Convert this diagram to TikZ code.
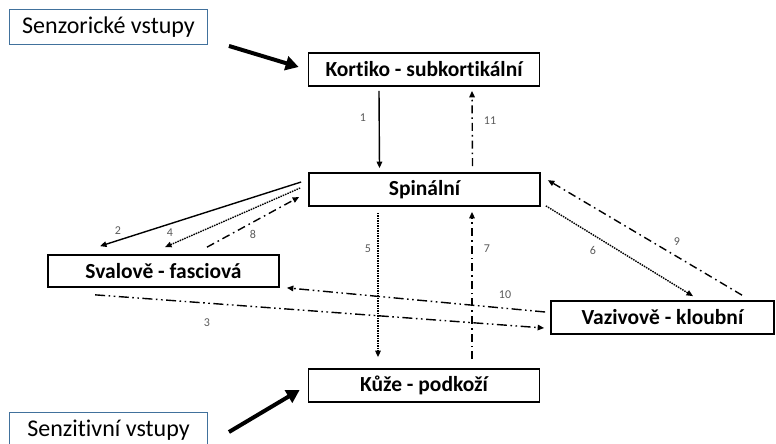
\documentclass[tikz,border=0pt]{standalone}
\usepackage{fontspec}
\setmainfont{Carlito}[Ligatures=NoCommon]
\usetikzlibrary{arrows.meta}
\definecolor{inblue}{RGB}{65,113,156}
\definecolor{numgray}{RGB}{90,90,90}
\begin{document}
\begin{tikzpicture}[x=1pt, y=-1pt,
		box/.style={draw, line width=1.7pt, minimum width=231pt, minimum height=33pt, inner sep=0pt, font=\fontsize{21.5}{25}\selectfont\bfseries},
		inbox/.style={draw=inblue, line width=0.9pt, minimum width=198pt, minimum height=35pt, inner sep=0pt, font=\fontsize{24}{28}\selectfont},
		link/.style={line width=1.4pt, -{Triangle[length=6.5pt, width=5.5pt]}},
		dotline/.style={link, dash pattern=on 1.5pt off 1pt},
		dashdot/.style={link, dash pattern=on 8pt off 4pt on 1.6pt off 4pt},
		dashdotdot/.style={link, dash pattern=on 10pt off 3.5pt on 1.6pt off 3.5pt on 1.6pt off 3.5pt},
		inarrow/.style={line width=4pt, -{Triangle[length=13pt, width=14pt]}},
		num/.style={text=numgray, font=\fontsize{12}{14}\selectfont}]
			\useasboundingbox (0, 0) rectangle (776, 444);
			
			\node[inbox] (senz) at (108.5, 27) {Senzorické vstupy};
			\node[inbox] (senzit) at (108.5, 430) {Senzitivní vstupy};
			
			\node[box] (kort) at (424, 69.5) {Kortiko - subkortikální};
			\node[box] (spin) at (424.5, 189.5) {Spinální};
			\node[box, minimum height=32pt] (sval) at (163.5, 271) {Svalově - fasciová};
			\node[box, minimum width=223pt] (vaz) at (662.5, 317.5) {Vazivově - kloubní};
			\node[box] (kuze) at (424, 385.5) {Kůže - podkoží};
			
			\draw[inarrow] ([xshift=21, yshift=-1]senz.south east) -- ([xshift=-9, yshift=2.5]kort.west);
			\draw[inarrow] ([xshift=21, yshift=-2]senzit.east) -- ([xshift=-8, yshift=-4.5]kuze.west);
			
			\draw[link] ([xshift=-45, yshift=-4]kort.south) -- ([xshift=-45, yshift=4]spin.north);
			\draw[dashdot] ([xshift=48, yshift=6]spin.north) -- ([xshift=48, yshift=-4]kort.south);
			
			\draw[link] ([xshift=-7, yshift=7.5]spin.west) -- ([xshift=-63.5, yshift=8]sval.north);
			\draw[dotline] ([xshift=-8, yshift=1.5]spin.west) -- ([xshift=1.5, yshift=7]sval.north);
			\draw[dashdot] ([xshift=43.5, yshift=7]sval.north) -- ([xshift=-9, yshift=-7.5]spin.west);
			
			\draw[dotline] ([xshift=-46.5, yshift=-6]spin.south) -- ([xshift=-46, yshift=11]kuze.north);
			\draw[dashdot] ([xshift=48, yshift=9]kuze.north) -- ([xshift=47.5, yshift=-5]spin.south);
			
			\draw[dotline] ([xshift=5, yshift=1]spin.south east) -- ([xshift=30.5, yshift=4]vaz.north);
			\draw[dashdot] ([xshift=79.5, yshift=5]vaz.north) -- ([xshift=7, yshift=-8]spin.north east);
			
			\draw[dashdotdot] ([xshift=-5, yshift=5.5]vaz.west) -- ([xshift=7, yshift=0]sval.south east);
			\draw[dashdotdot] ([xshift=48, yshift=-7]sval.south west) -- ([xshift=-6, yshift=-10.5]vaz.west);
			
			\node[num] (l1) at (363, 118) {1};
			\node[num] (l2) at (118, 231) {2};
			\node[num] (l3) at (207, 323) {3};
			\node[num] (l4) at (170, 233) {4};
			\node[num] (l5) at (368, 249) {5};
			\node[num] (l6) at (593, 250) {6};
			\node[num] (l7) at (487, 249) {7};
			\node[num] (l8) at (253, 234) {8};
			\node[num] (l9) at (677, 242) {9};
			\node[num] (l10) at (505, 295) {10};
			\node[num] (l11) at (490, 121) {11};
		\end{tikzpicture}
\end{document}
